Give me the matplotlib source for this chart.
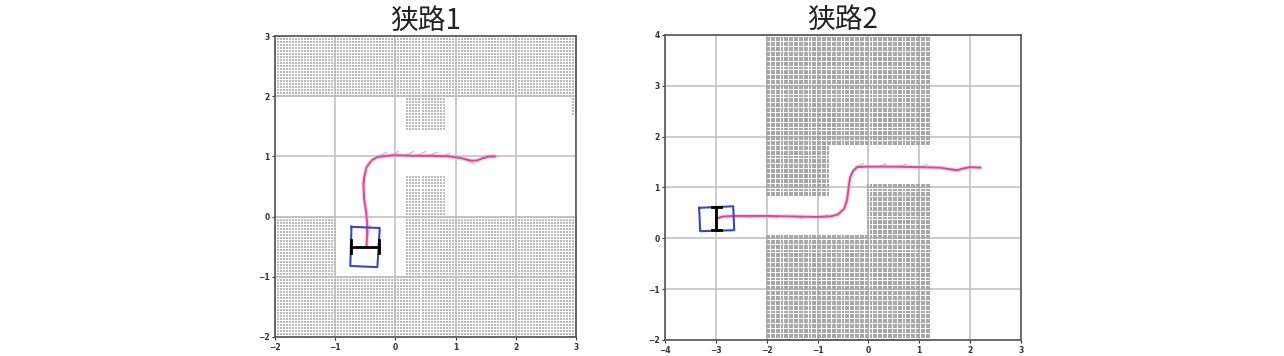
import numpy as np
import matplotlib
matplotlib.use("Agg")
import matplotlib.pyplot as plt

plt.rcParams['font.family'] = ['Noto Sans CJK SC', 'DejaVu Sans']

titles = ['狭路1', '狭路2']
xlims = [(-2, 3), (-4, 3)]
ylims = [(-2, 3), (-2, 4)]

# obstacle rectangles: (x0, x1, y0, y1)
obs1 = [(-2, 3, 2, 3), (0.2, 0.8, 1.45, 2), (0.2, 0.8, 0, 0.65),
        (-2, -1, -2, 0), (-1, 0.2, -2, -1), (0.2, 3, -2, 0), (2.95, 3, 1.7, 2)]
obs2 = [(-2, 1.2, 1.85, 4), (-2, -0.8, 0.85, 1.85),
        (-2, 1.2, -2, 0.05), (0, 1.2, 0.05, 1.05)]

# trajectories
path1_x = [-0.48, -0.47, -0.47, -0.49, -0.52, -0.53, -0.52, -0.48, -0.40, -0.30, -0.15,
           0.0, 0.3, 0.6, 0.9, 1.1, 1.25, 1.35, 1.45, 1.55, 1.65]
path1_y = [-0.5, -0.3, -0.1, 0.1, 0.3, 0.5, 0.65, 0.82, 0.93, 0.99, 1.01,
           1.02, 1.01, 1.01, 1.0, 0.97, 0.93, 0.93, 0.97, 1.0, 1.0]
path2_x = [-2.99, -2.85, -2.6, -2.0, -1.5, -1.0, -0.75, -0.6, -0.48, -0.42, -0.39, -0.36,
           -0.30, -0.22, -0.05, 0.5, 1.0, 1.4, 1.6, 1.75, 1.85, 2.0, 2.2]
path2_y = [0.39, 0.43, 0.44, 0.44, 0.43, 0.42, 0.43, 0.47, 0.58, 0.75, 1.0, 1.2,
           1.33, 1.40, 1.41, 1.41, 1.40, 1.39, 1.36, 1.34, 1.37, 1.40, 1.39]

# short predicted-trajectory strokes (x0, y0, x1, y1)
strokes1 = [(-0.3, 0.99, -0.15, 1.07), (-0.1, 1.01, 0.05, 1.08), (0.15, 1.01, 0.3, 1.08),
            (0.35, 1.01, 0.5, 1.08), (0.55, 1.01, 0.7, 1.07), (0.75, 1.0, 0.9, 1.05),
            (1.1, 0.97, 1.3, 0.88), (1.45, 0.97, 1.72, 1.0), (-0.5, 0.7, -0.55, 0.55),
            (-0.45, -0.3, -0.42, -0.15)]
strokes2 = [(-2.5, 0.44, -2.3, 0.4), (-2.0, 0.44, -1.8, 0.4), (-1.5, 0.43, -1.3, 0.39),
            (-1.0, 0.42, -0.8, 0.46), (-0.45, 0.7, -0.4, 0.9), (-0.25, 1.41, -0.1, 1.47),
            (0.2, 1.41, 0.35, 1.46), (0.6, 1.41, 0.75, 1.46), (1.0, 1.40, 1.15, 1.45),
            (1.5, 1.38, 1.7, 1.32), (1.9, 1.39, 2.2, 1.40)]

# robot footprint corners and axle bar
robot1_x = [-0.73, -0.26, -0.30, -0.75, -0.73]
robot1_y = [-0.17, -0.19, -0.84, -0.82, -0.17]
bar1 = (-0.74, -0.5, -0.27, -0.5)
robot2_x = [-3.33, -2.66, -2.64, -3.31, -3.33]
robot2_y = [0.60, 0.63, 0.16, 0.14, 0.60]
bar2 = (-2.99, 0.61, -2.99, 0.16)

fig = plt.figure(figsize=(12.84, 3.56), dpi=100)
ax1 = fig.add_axes([0.2142, 0.0506, 0.2344, 0.8511])
ax2 = fig.add_axes([0.5179, 0.0450, 0.2773, 0.8567])

panels = [(ax1, obs1, path1_x, path1_y, strokes1, robot1_x, robot1_y, bar1),
          (ax2, obs2, path2_x, path2_y, strokes2, robot2_x, robot2_y, bar2)]

for i, (ax, obs, px, py, strokes, rx, ry, bar) in enumerate(panels):
    step = 0.05
    for (x0, x1, y0, y1) in obs:
        gx, gy = np.meshgrid(np.arange(x0, x1 + 1e-6, step), np.arange(y0, y1 + 1e-6, step))
        ax.scatter(gx.ravel(), gy.ravel(), s=0.7, marker='s',
                   c='#bcbcbc' if i == 0 else '#a8a8a8', linewidths=0, zorder=1)

    ax.plot(px, py, color='#dcb0ee', lw=3, alpha=0.55, solid_capstyle='round', zorder=3)
    for (x0, y0, x1, y1) in strokes:
        ax.plot([x0, x1], [y0, y1], color='#d9a0ea', lw=1, alpha=0.8, zorder=3)
    ax.plot(px, py, color='#e04c80', lw=1.4, zorder=4)

    ax.plot(rx, ry, color='#3c44c0', lw=1.5, zorder=5)
    bx0, by0, bx1, by1 = bar
    ax.plot([bx0, bx1], [by0, by1], color='black', lw=2, zorder=6)
    if by0 == by1:
        for bx in (bx0, bx1):
            ax.plot([bx, bx], [by0 - 0.11, by0 + 0.11], color='black', lw=2, zorder=6)
    else:
        for by in (by0, by1):
            ax.plot([bx0 - 0.08, bx0 + 0.08], [by, by], color='black', lw=2, zorder=6)

    ax.set_xlim(*xlims[i])
    ax.set_ylim(*ylims[i])
    ax.set_aspect('equal', adjustable='box')
    ax.set_xticks(range(xlims[i][0], xlims[i][1] + 1))
    ax.set_yticks(range(ylims[i][0], ylims[i][1] + 1))
    ax.grid(True, color='#c4c4c4', lw=1.2)
    ax.set_axisbelow(True)
    ax.tick_params(labelsize=5.5, length=2.5, width=0.8, colors='#333333', pad=1.5)
    for lab in ax.get_xticklabels() + ax.get_yticklabels():
        lab.set_family('DejaVu Sans')
        lab.set_fontweight('bold')
    for sp in ax.spines.values():
        sp.set_color('#555555')
        sp.set_linewidth(1.2)
    ax.set_title(titles[i], fontsize=20, pad=3, color='#222222')

fig.savefig('out.png', dpi=100)
